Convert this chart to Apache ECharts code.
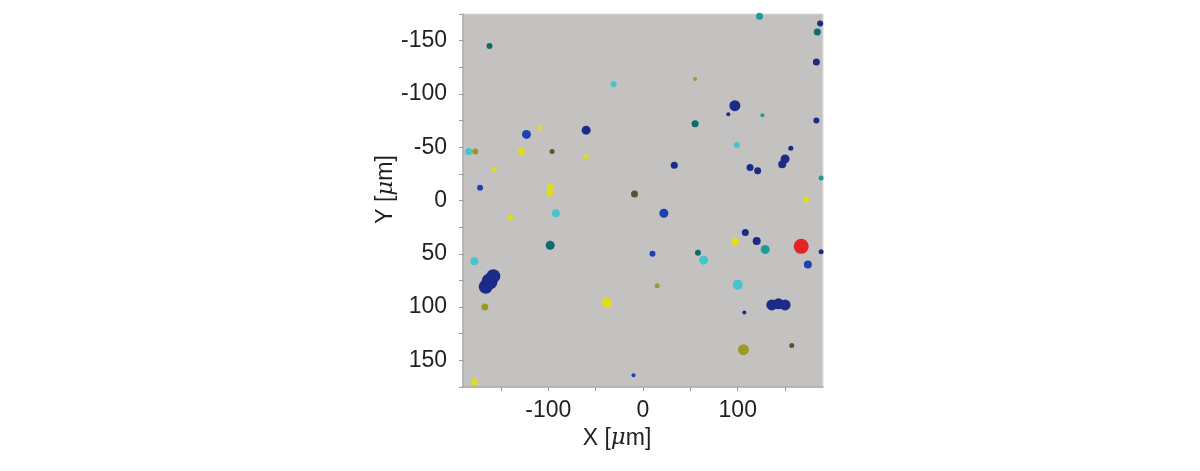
<!DOCTYPE html>
<html>
<head>
<meta charset="utf-8">
<script src="https://cdn.jsdelivr.net/npm/echarts@6/dist/echarts.min.js"></script>
<style>html,body{margin:0;padding:0;background:#fff}#c{width:1200px;height:471px}</style>
</head>
<body>
<div id="c"></div>
<script>
// Particle positions [x µm, y µm, diameter µm], grouped by colour class
const navyParticles = [
  [-60,-66,8],[33,-33,6],[187,-166,5],[183,-130,6],[97,-89,10],[90,-81,3],
  [183,-75,5],[156,-49,4],[150,-39,8],[147,-34,7],[113,-31,6],[121,-28,6],
  [-166,81,13],[-162,76,15],[-158,71,13],[108,30,6],[120,38,7],[188,48,4],
  [136,98,10],[143,97,10],[150,98,10],[107,105,3]
];
const blueParticles = [
  [-123,-62,8],[-172,-12,5],[22,12,8],[10,50,5],[174,60,7],[-10,164,3]
];
const darkTealParticles = [
  [-162,-145,5],[55,-72,6],[184,-158,6],[-98,42,8],[58,49,5]
];
const tealParticles = [
  [123,-173,6],[188,-21,4],[129,46,8],[126,-80,3]
];
const cyanParticles = [
  [-184,-46,6],[-178,57,7],[64,56,8],[100,79,9],[99,-52,5],[-92,12,7],[-31,-109,5]
];
const yellowParticles = [
  [-109,-68,4],[-128,-46,6],[-157,-29,4],[-97.5,-13,6],[-98.5,-7,6],[-60,-41,4],
  [172,-1,5],[-140,16,5],[-178,170,6],[-38,96,9],[97,39,7]
];
const oliveParticles = [
  [-177,-46,5],[55,-114,3],[-167,100,6],[15,80,4],[106,140,10]
];
const darkOliveParticles = [
  [-96,-46,4],[-9,-6,6],[157,136,4]
];
const redParticles = [
  [167,43,14]
];

const xTickValues = [-150,-100,-50,0,50,100,150];
const xLabelValues = [-100,0,100];

const groups = [
  [navyParticles, '#1b2b86'],
  [blueParticles, '#1f40b4'],
  [darkTealParticles, '#0f6c6c'],
  [tealParticles, '#1a9c9c'],
  [cyanParticles, '#46c4ce'],
  [yellowParticles, '#e2dd1c'],
  [oliveParticles, '#9c9a26'],
  [darkOliveParticles, '#56562e'],
  [redParticles, '#e62222']
];

const font = 'Liberation Sans, Arial, sans-serif';
const chart = echarts.init(document.getElementById('c'));
chart.setOption({
  animation: false,
  backgroundColor: '#ffffff',
  grid: {
    left: 463, right: 377, top: 14, bottom: 84,
    show: true, backgroundColor: '#c3c2c0', borderColor: '#dcdcdc', borderWidth: 1
  },
  xAxis: {
    type: 'value', min: -190, max: 190,
    splitLine: { show: false },
    axisLine: { show: true, onZero: false, lineStyle: { color: '#a8a8a8', width: 1.5 } },
    axisTick: { show: true, customValues: xTickValues, length: 4, lineStyle: { color: '#999' } },
    axisLabel: { customValues: xLabelValues, margin: 12, fontSize: 23, color: '#231f20', fontFamily: font },
    name: 'X [{i|μ}m]', nameLocation: 'middle', nameGap: 40,
    nameTextStyle: {
      fontSize: 23, color: '#231f20', fontFamily: font, padding: [0, 52, 0, 0],
      rich: { i: { fontSize: 23, fontStyle: 'italic', color: '#231f20', fontFamily: 'DejaVu Serif' } }
    }
  },
  yAxis: {
    type: 'value', min: -175, max: 175, interval: 25, inverse: true,
    splitLine: { show: false },
    axisLine: { show: true, onZero: false, lineStyle: { color: '#a8a8a8', width: 1.5 } },
    axisTick: { show: true, length: 4, lineStyle: { color: '#999' } },
    axisLabel: {
      margin: 16, fontSize: 23, color: '#231f20', fontFamily: font,
      formatter: v => (v % 50 === 0 ? String(v) : '')
    },
    name: 'Y [{i|μ}m]', nameLocation: 'middle', nameGap: 60, nameRotate: 90,
    nameTextStyle: {
      fontSize: 23, color: '#231f20', fontFamily: font, padding: [0, 0, 0, 22],
      rich: { i: { fontSize: 23, fontStyle: 'italic', color: '#231f20', fontFamily: 'DejaVu Serif' } }
    }
  },
  series: groups.map(([data, color]) => ({
    type: 'scatter',
    data: data,
    symbol: 'circle',
    symbolSize: d => d[2] + 1,
    itemStyle: { color: color, opacity: 1 }
  }))
});
</script>
</body>
</html>
